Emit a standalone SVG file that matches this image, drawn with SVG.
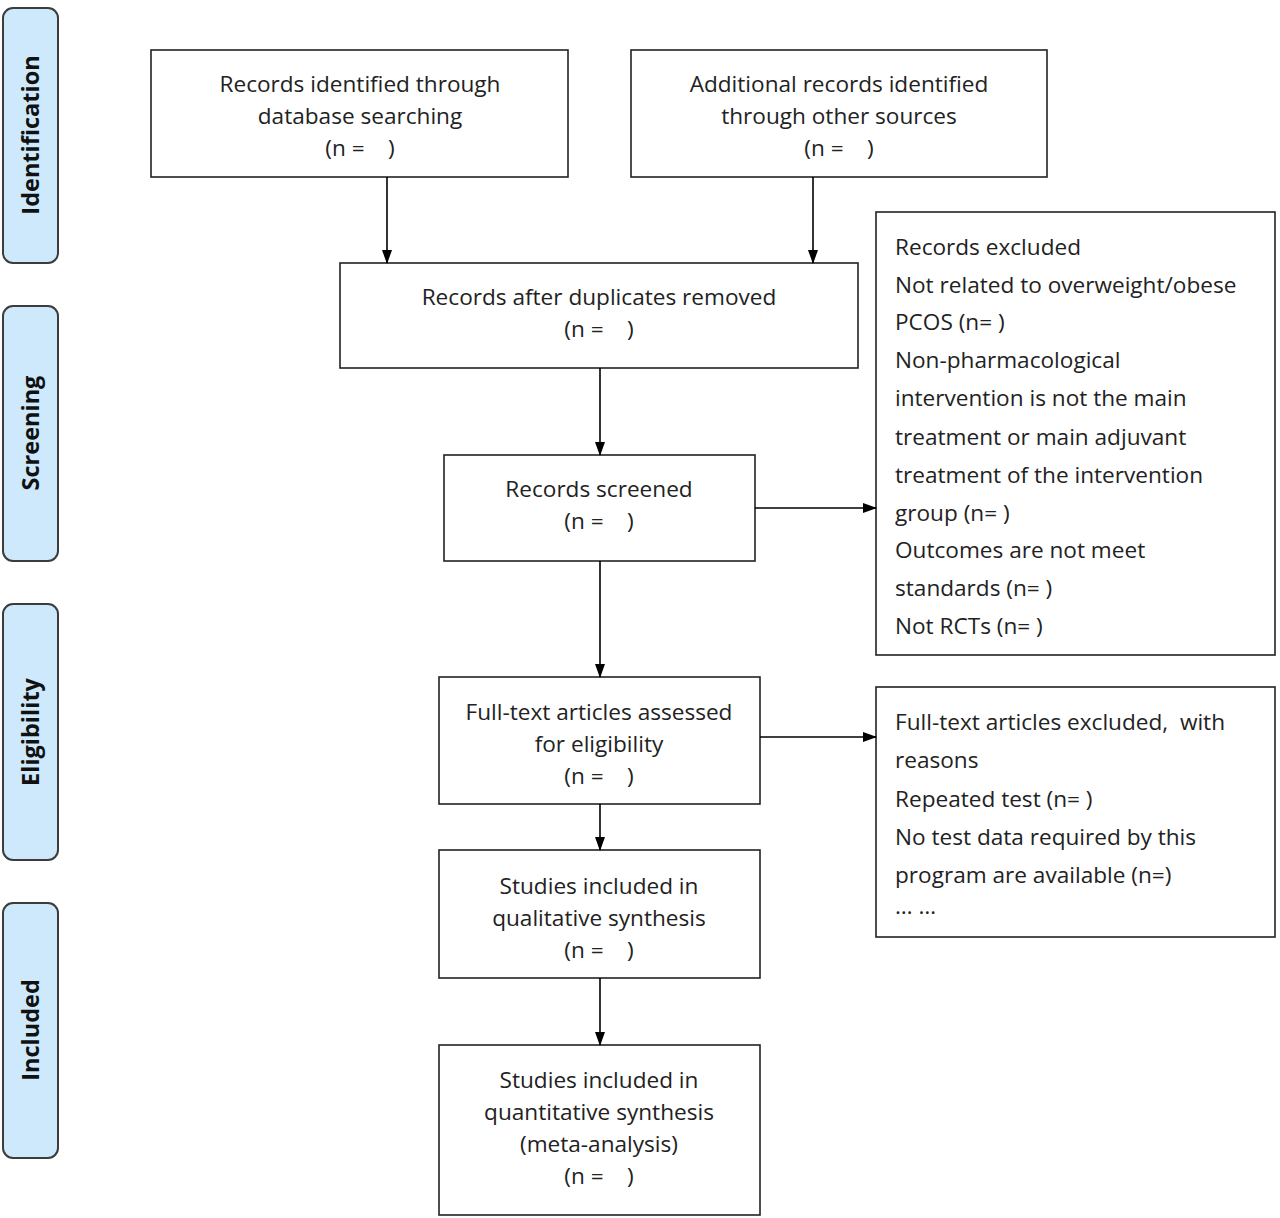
<svg xmlns="http://www.w3.org/2000/svg" width="1280" height="1218" viewBox="0 0 1280 1218">
<style>
.side{fill:#cde9fb;stroke:#3c3c3c;stroke-width:2}
.sidet{font-family:"Open Sans","Liberation Sans",Arial,sans-serif;font-weight:bold;font-size:23.5px;fill:#111;text-anchor:middle}
.box{fill:#fff;stroke:#222;stroke-width:1.6}
.t{font-family:"Open Sans","Liberation Sans",Arial,sans-serif;font-size:22.6px;fill:#222;text-anchor:middle;white-space:pre}
.tl{font-family:"Open Sans","Liberation Sans",Arial,sans-serif;font-size:22.6px;fill:#222;white-space:pre}
.c{stroke:#000;stroke-width:1.6;fill:none;marker-end:url(#ah)}
</style>
<defs>
<marker id="ah" markerWidth="14" markerHeight="10" refX="13" refY="5" orient="auto" markerUnits="userSpaceOnUse">
<path d="M0,0 L14,5 L0,10 Z" fill="#000"/>
</marker>
</defs>
<rect width="1280" height="1218" fill="#fff"/>
<g id="phase-identification"><rect class="side" x="3" y="8" width="55" height="255" rx="10"/><text class="sidet" transform="translate(39,135) rotate(-90)">Identification</text></g>
<g id="phase-screening"><rect class="side" x="3" y="306" width="55" height="255" rx="10"/><text class="sidet" transform="translate(39,433) rotate(-90)">Screening</text></g>
<g id="phase-eligibility"><rect class="side" x="3" y="604" width="55" height="256" rx="10"/><text class="sidet" transform="translate(39,732) rotate(-90)">Eligibility</text></g>
<g id="phase-included"><rect class="side" x="3" y="903" width="55" height="255" rx="10"/><text class="sidet" transform="translate(39,1030) rotate(-90)">Included</text></g>

<g id="database"><rect class="box" x="151" y="50" width="417" height="127"/>
<text class="t" x="360" y="92">Records identified through</text>
<text class="t" x="360" y="124">database searching</text>
<text class="t" x="360" y="156">(n =    )</text></g>
<g id="other"><rect class="box" x="631" y="50" width="416" height="127"/>
<text class="t" x="839" y="92">Additional records identified</text>
<text class="t" x="839" y="124">through other sources</text>
<text class="t" x="839" y="156">(n =    )</text></g>
<g id="dedup"><rect class="box" x="340" y="263" width="518" height="105"/>
<text class="t" x="599" y="305">Records after duplicates removed</text>
<text class="t" x="599" y="337">(n =    )</text></g>
<g id="screened"><rect class="box" x="444" y="455" width="311" height="106"/>
<text class="t" x="599" y="497">Records screened</text>
<text class="t" x="599" y="529">(n =    )</text></g>
<g id="fulltext"><rect class="box" x="439" y="677" width="321" height="127"/>
<text class="t" x="599" y="720">Full-text articles assessed</text>
<text class="t" x="599" y="752">for eligibility</text>
<text class="t" x="599" y="784">(n =    )</text></g>
<g id="qualitative"><rect class="box" x="439" y="850" width="321" height="128"/>
<text class="t" x="599" y="894">Studies included in</text>
<text class="t" x="599" y="926">qualitative synthesis</text>
<text class="t" x="599" y="958">(n =    )</text></g>
<g id="quantitative"><rect class="box" x="439" y="1045" width="321" height="170"/>
<text class="t" x="599" y="1088">Studies included in</text>
<text class="t" x="599" y="1120">quantitative synthesis</text>
<text class="t" x="599" y="1152">(meta-analysis)</text>
<text class="t" x="599" y="1184">(n =    )</text></g>
<g id="excluded1"><rect class="box" x="876" y="212" width="399" height="443"/>
<text class="tl" x="895" y="255">Records excluded</text>
<text class="tl" x="895" y="293">Not related to overweight/obese</text>
<text class="tl" x="895" y="330">PCOS (n= )</text>
<text class="tl" x="895" y="368">Non-pharmacological</text>
<text class="tl" x="895" y="406">intervention is not the main</text>
<text class="tl" x="895" y="445">treatment or main adjuvant</text>
<text class="tl" x="895" y="483">treatment of the intervention</text>
<text class="tl" x="895" y="521">group (n= )</text>
<text class="tl" x="895" y="558">Outcomes are not meet</text>
<text class="tl" x="895" y="596">standards (n= )</text>
<text class="tl" x="895" y="634">Not RCTs (n= )</text></g>
<g id="excluded2"><rect class="box" x="876" y="687" width="399" height="250"/>
<text class="tl" x="895" y="730">Full-text articles excluded,  with</text>
<text class="tl" x="895" y="768">reasons</text>
<text class="tl" x="895" y="807">Repeated test (n= )</text>
<text class="tl" x="895" y="845">No test data required by this</text>
<text class="tl" x="895" y="883">program are available (n=)</text>
<text class="tl" x="895" y="914">… …</text></g>

<g id="connectors">
<line class="c" x1="387" y1="177" x2="387" y2="263"/>
<line class="c" x1="813" y1="177" x2="813" y2="263"/>
<line class="c" x1="600" y1="368" x2="600" y2="455"/>
<line class="c" x1="600" y1="561" x2="600" y2="677"/>
<line class="c" x1="600" y1="804" x2="600" y2="850"/>
<line class="c" x1="600" y1="978" x2="600" y2="1045"/>
<line class="c" x1="755" y1="508" x2="876" y2="508"/>
<line class="c" x1="760" y1="737" x2="876" y2="737"/>
</g>
</svg>
